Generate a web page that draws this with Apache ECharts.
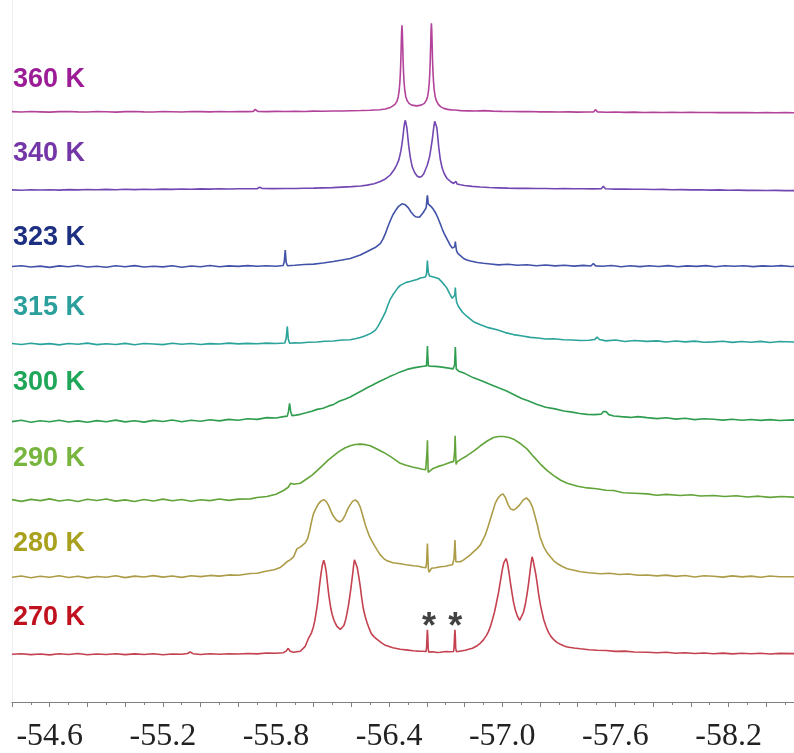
<!DOCTYPE html>
<html>
<head>
<meta charset="utf-8">
<script src="https://cdn.jsdelivr.net/npm/echarts@6/dist/echarts.min.js"></script>
<style>
  html, body { margin: 0; padding: 0; background: #ffffff; overflow: hidden; }
  /* the shift axis runs on past the right edge of the page */
  #chart { width: 820px; height: 753px; }
</style>
</head>
<body>
<div id="chart"></div>
<script>
// Variable-temperature spectra, stacked from 360 K (top) to 270 K (bottom).
// Each spectrum: [chemical shift (ppm), intensity above its own baseline].
const temps = ['360 K', '340 K', '323 K', '315 K', '300 K', '290 K', '280 K', '270 K'];
// Vertical stacking offset of each spectrum's baseline (intensity units)
const offsets = [593.5, 516, 438, 360, 283, 203, 126, 48];
// Shift axis tick labels
const axisLabels = [-54.6, -55.2, -55.8, -56.4, -57.0, -57.6, -58.2];
// Shifts of the two sharp lines flagged with asterisks
const starShifts = [-56.612, -56.751];

const s360 = [[-54.40,0.2],[-54.45,-0.2],[-54.50,0.3],[-54.55,0],[-54.60,-0.3],[-54.65,0.2],[-54.70,0.4],[-54.75,0],[-54.80,-0.2],[-54.85,0.3],[-54.90,0.1],[-54.95,-0.3],[-55.00,0.2],[-55.05,0.4],[-55.10,0],[-55.15,-0.2],[-55.20,0.3],[-55.25,0.1],[-55.30,-0.2],[-55.35,0.3],[-55.40,0.2],[-55.45,0],[-55.50,0.4],[-55.55,0.1],[-55.60,0.3],[-55.65,0.2],[-55.678,0.3],[-55.686,1.6],[-55.690,2.5],[-55.695,1.4],[-55.703,0.4],[-55.75,0.2],[-55.80,0.5],[-55.85,0.3],[-55.90,0.6],[-55.95,0.4],[-56.00,0.7],[-56.05,0.6],[-56.10,0.9],[-56.15,0.8],[-56.20,1.1],[-56.25,1.3],[-56.30,1.6],[-56.35,2.2],[-56.38,2.8],[-56.406,4.5],[-56.418,5.8],[-56.431,7.5],[-56.441,10.5],[-56.448,15],[-56.453,21],[-56.457,30],[-56.460,41],[-56.462,52],[-56.464,66],[-56.466,80],[-56.468,87],[-56.470,80],[-56.472,66],[-56.474,52],[-56.476,41],[-56.479,30],[-56.483,21.5],[-56.488,15.5],[-56.495,11.5],[-56.505,8.5],[-56.52,6.8],[-56.546,6],[-56.57,6.8],[-56.587,8.5],[-56.597,11.5],[-56.604,15.5],[-56.609,21.5],[-56.613,30],[-56.616,41],[-56.618,52],[-56.620,66],[-56.622,80],[-56.624,89],[-56.626,82],[-56.628,68],[-56.630,53],[-56.632,42],[-56.635,31],[-56.639,22],[-56.644,15.5],[-56.651,11],[-56.661,7.5],[-56.674,5],[-56.69,3.5],[-56.71,2.5],[-56.73,2],[-56.748,1.8],[-56.754,3.3],[-56.760,1.6],[-56.78,1.2],[-56.82,1],[-56.86,0.8],[-56.90,1.2],[-56.95,0.7],[-57.00,0.5],[-57.05,0.4],[-57.10,0.2],[-57.15,0.3],[-57.20,0],[-57.25,0.1],[-57.30,-0.2],[-57.35,0],[-57.40,-0.3],[-57.45,-0.1],[-57.485,0],[-57.490,1.5],[-57.494,2.2],[-57.498,1.3],[-57.505,0],[-57.55,-0.4],[-57.60,-0.2],[-57.65,-0.5],[-57.70,-0.3],[-57.75,-0.6],[-57.80,-0.4],[-57.85,-0.6],[-57.90,-0.5],[-57.95,-0.7],[-58.00,-0.5],[-58.05,-0.7],[-58.10,-0.6],[-58.15,-0.8],[-58.20,-0.6],[-58.25,-0.8],[-58.30,-0.7],[-58.35,-0.9],[-58.40,-0.7],[-58.45,-0.9],[-58.50,-0.8],[-58.55,-0.9],[-58.60,-0.8]];

const s340 = [[-54.40,-1],[-54.45,-1.3],[-54.50,-0.8],[-54.55,-1.1],[-54.60,-0.9],[-54.65,-1.2],[-54.70,-0.7],[-54.75,-1],[-54.80,-0.6],[-54.85,-0.9],[-54.90,-0.5],[-54.95,-0.8],[-55.00,-0.4],[-55.05,-0.7],[-55.10,-0.3],[-55.15,-0.6],[-55.20,-0.2],[-55.25,-0.5],[-55.30,-0.1],[-55.35,-0.4],[-55.40,0],[-55.45,-0.2],[-55.50,0.1],[-55.55,-0.1],[-55.60,0.2],[-55.65,0.1],[-55.70,0.2],[-55.709,0.5],[-55.713,1.8],[-55.717,2.8],[-55.721,1.6],[-55.726,0.4],[-55.78,0.3],[-55.85,0.5],[-55.90,0.4],[-55.95,0.7],[-56.00,0.8],[-56.05,1.1],[-56.10,1.3],[-56.15,1.8],[-56.20,2.3],[-56.25,3],[-56.283,3.8],[-56.32,5.2],[-56.353,7.5],[-56.38,10],[-56.406,14],[-56.425,19],[-56.44,24],[-56.452,29.5],[-56.462,38],[-56.468,45],[-56.474,54],[-56.478,61],[-56.482,66.5],[-56.486,69],[-56.490,67],[-56.494,61.5],[-56.498,54],[-56.504,43],[-56.512,32],[-56.522,22.5],[-56.535,16.5],[-56.548,13],[-56.560,11.7],[-56.572,12.5],[-56.583,15],[-56.594,20],[-56.601,23.3],[-56.607,27],[-56.615,33],[-56.622,41],[-56.629,50],[-56.634,58],[-56.638,64],[-56.642,68],[-56.645,69],[-56.649,67],[-56.653,61.5],[-56.657,54],[-56.663,42],[-56.671,30],[-56.681,21],[-56.693,15],[-56.707,10.5],[-56.725,7.5],[-56.742,5.5],[-56.750,5.3],[-56.755,7.5],[-56.760,5],[-56.778,4.2],[-56.80,3.5],[-56.84,2.6],[-56.884,1.9],[-56.93,1.4],[-56.98,1.1],[-57.03,0.8],[-57.08,0.6],[-57.13,0.7],[-57.18,0.4],[-57.23,0.5],[-57.28,0.2],[-57.33,0.3],[-57.38,0.1],[-57.43,0.2],[-57.48,0],[-57.525,0.2],[-57.531,1.5],[-57.536,2.8],[-57.541,1.4],[-57.547,0.1],[-57.60,-0.2],[-57.65,-0.1],[-57.70,-0.4],[-57.75,-0.3],[-57.80,-0.6],[-57.85,-0.5],[-57.90,-0.8],[-57.95,-0.7],[-58.00,-1],[-58.05,-0.9],[-58.10,-1.2],[-58.15,-1],[-58.20,-1.3],[-58.25,-1.2],[-58.30,-1.5],[-58.35,-1.3],[-58.40,-1.6],[-58.45,-1.5],[-58.50,-1.7],[-58.55,-1.6],[-58.60,-1.8]];

const s323 = [[-54.40,0],[-54.45,0.8],[-54.50,-0.6],[-54.55,0.4],[-54.60,-0.9],[-54.65,0.6],[-54.70,-0.3],[-54.75,1],[-54.80,-0.5],[-54.85,0.2],[-54.90,-0.8],[-54.95,0.7],[-55.00,-0.2],[-55.05,0.9],[-55.10,-0.6],[-55.15,0.3],[-55.20,-0.4],[-55.25,0.8],[-55.30,-0.7],[-55.35,0.5],[-55.40,-0.3],[-55.45,1],[-55.50,-0.2],[-55.55,0.6],[-55.60,0.1],[-55.65,0.9],[-55.70,0.2],[-55.75,0.7],[-55.80,0.3],[-55.838,1],[-55.844,5],[-55.849,16.5],[-55.854,4],[-55.861,0.8],[-55.90,1.2],[-55.95,2],[-56.00,2.4],[-56.05,3.5],[-56.104,5],[-56.15,6.5],[-56.194,8],[-56.247,11.5],[-56.284,15],[-56.326,19],[-56.353,23],[-56.367,27.5],[-56.380,33],[-56.393,40],[-56.406,46],[-56.420,52],[-56.433,56],[-56.450,60.5],[-56.468,63],[-56.486,62],[-56.502,59],[-56.515,55],[-56.528,52],[-56.540,50],[-56.550,49],[-56.561,49.5],[-56.571,51.5],[-56.580,54],[-56.587,56],[-56.596,59],[-56.599,64],[-56.601,69],[-56.603,71.5],[-56.605,68],[-56.607,63],[-56.611,62],[-56.617,61],[-56.624,60],[-56.636,57],[-56.646,54],[-56.656,50],[-56.668,44.5],[-56.681,38],[-56.692,33],[-56.703,29],[-56.714,25],[-56.725,21],[-56.735,18.5],[-56.743,17.5],[-56.748,20],[-56.751,25],[-56.754,20],[-56.758,15.5],[-56.765,13],[-56.778,11],[-56.795,8],[-56.812,6.5],[-56.831,5.5],[-56.85,4.8],[-56.868,4],[-56.90,3.2],[-56.937,2.5],[-56.98,1.6],[-57.03,2.2],[-57.08,1.2],[-57.13,1.8],[-57.18,0.8],[-57.23,1.5],[-57.28,0.6],[-57.33,1.3],[-57.38,0.4],[-57.43,1.1],[-57.47,0.5],[-57.478,1.8],[-57.483,3],[-57.488,1.8],[-57.495,0.6],[-57.53,0.2],[-57.58,1],[-57.63,-0.2],[-57.68,0.7],[-57.73,-0.1],[-57.78,0.8],[-57.83,0],[-57.88,0.9],[-57.93,-0.3],[-57.98,0.6],[-58.03,0.1],[-58.08,0.9],[-58.13,-0.2],[-58.18,0.7],[-58.23,0.2],[-58.28,0.8],[-58.33,-0.1],[-58.38,0.6],[-58.43,0.2],[-58.48,0.9],[-58.53,0],[-58.60,0.5]];

const s315 = [[-54.40,0.5],[-54.45,-0.5],[-54.50,0.8],[-54.55,-0.3],[-54.60,0.4],[-54.65,-0.8],[-54.70,0.6],[-54.75,-0.2],[-54.80,0.9],[-54.85,-0.6],[-54.90,0.3],[-54.95,-0.4],[-55.00,0.7],[-55.05,-0.7],[-55.10,0.5],[-55.15,0],[-55.20,-0.6],[-55.25,0.8],[-55.30,-0.2],[-55.35,0.6],[-55.40,-0.5],[-55.45,0.4],[-55.50,0],[-55.55,0.9],[-55.60,0.2],[-55.65,0.7],[-55.70,0.3],[-55.75,0.9],[-55.80,0.5],[-55.847,1],[-55.854,6],[-55.860,17.7],[-55.865,5],[-55.872,0.8],[-55.90,1.2],[-55.929,1],[-55.97,1.8],[-56.018,2],[-56.06,2.8],[-56.104,3],[-56.15,4],[-56.194,4.3],[-56.225,5.5],[-56.247,6.5],[-56.27,8],[-56.283,9],[-56.305,11],[-56.327,14],[-56.340,17.5],[-56.353,22],[-56.367,27],[-56.380,32],[-56.393,39],[-56.406,45],[-56.420,49.5],[-56.433,53],[-56.446,56.5],[-56.459,59],[-56.475,60.5],[-56.491,62],[-56.51,63],[-56.528,64],[-56.548,65],[-56.566,66.5],[-56.58,67],[-56.592,67.5],[-56.598,70],[-56.601,78],[-56.603,84],[-56.605,78],[-56.608,72],[-56.614,68.5],[-56.635,67.5],[-56.661,66],[-56.682,62],[-56.695,59],[-56.707,56],[-56.72,51],[-56.734,46],[-56.744,44],[-56.748,49],[-56.751,56.7],[-56.754,48],[-56.758,42],[-56.767,38],[-56.789,32],[-56.813,27.7],[-56.847,22.5],[-56.884,19.3],[-56.926,16.5],[-56.972,14.3],[-57.016,11.5],[-57.059,9.5],[-57.107,8],[-57.149,6.7],[-57.19,6],[-57.229,5],[-57.27,5.3],[-57.324,4.3],[-57.37,4],[-57.414,3.5],[-57.46,3.8],[-57.49,4.5],[-57.503,7],[-57.515,4.5],[-57.55,3.2],[-57.60,4],[-57.65,2.6],[-57.70,3.5],[-57.768,2.7],[-57.82,3.2],[-57.87,2],[-57.92,3],[-57.97,2.2],[-58.02,2.9],[-58.07,1.8],[-58.120,2.2],[-58.17,2.8],[-58.22,1.7],[-58.27,2.6],[-58.32,1.8],[-58.37,2.7],[-58.42,1.6],[-58.47,2.5],[-58.544,2],[-58.60,2.3]];

const s300 = [[-54.40,-1],[-54.45,0.3],[-54.50,-1.6],[-54.55,-0.2],[-54.60,-1.2],[-54.65,0.4],[-54.70,-1.4],[-54.75,-0.3],[-54.80,-1.7],[-54.85,0],[-54.90,-1.1],[-54.95,0.5],[-55.00,-1.3],[-55.05,-0.1],[-55.10,-1.5],[-55.15,0.2],[-55.20,-0.9],[-55.25,0.6],[-55.30,-1.2],[-55.35,0.3],[-55.40,-0.6],[-55.45,0.9],[-55.50,-0.3],[-55.55,1.2],[-55.60,0.4],[-55.65,1.8],[-55.70,1.2],[-55.752,3],[-55.80,2.6],[-55.84,4],[-55.860,4.5],[-55.866,9],[-55.872,17.3],[-55.878,9],[-55.885,5],[-55.905,5.5],[-55.929,6.3],[-55.96,7.8],[-55.99,9.5],[-56.018,11.3],[-56.05,12.5],[-56.08,14.8],[-56.106,16.3],[-56.135,19.5],[-56.165,21.5],[-56.194,23.7],[-56.225,27],[-56.255,30],[-56.283,33],[-56.31,35.5],[-56.34,38.5],[-56.371,41.3],[-56.40,44],[-56.43,46.5],[-56.459,49],[-56.495,51.5],[-56.530,53],[-56.56,54],[-56.583,54.7],[-56.598,55],[-56.601,65],[-56.603,75],[-56.605,65],[-56.608,55],[-56.619,54.7],[-56.645,54.5],[-56.672,54],[-56.707,53],[-56.739,52],[-56.747,56],[-56.749,65],[-56.751,74],[-56.753,65],[-56.756,52],[-56.769,49.7],[-56.80,47.5],[-56.848,43],[-56.89,40],[-56.937,36.3],[-56.98,33],[-57.02,30],[-57.060,26.3],[-57.10,22.5],[-57.14,19.8],[-57.185,16.3],[-57.23,13.5],[-57.28,11.8],[-57.326,9.7],[-57.37,8.5],[-57.41,7.2],[-57.450,6.3],[-57.49,6],[-57.525,6.5],[-57.535,9],[-57.542,10.7],[-57.550,9],[-57.565,6],[-57.591,4.7],[-57.63,4],[-57.68,3.2],[-57.72,4],[-57.768,3],[-57.82,2],[-57.87,2.8],[-57.92,1.5],[-57.97,2.3],[-58.02,1],[-58.07,1.8],[-58.120,1.3],[-58.17,0.5],[-58.22,1.4],[-58.27,0.3],[-58.32,1.1],[-58.37,0.2],[-58.42,1],[-58.47,0.1],[-58.544,0.7],[-58.60,0.4]];

const s290 = [[-54.40,0.5],[-54.45,-1.2],[-54.50,0.8],[-54.55,-0.5],[-54.60,1.3],[-54.65,-0.9],[-54.70,0.4],[-54.75,-1.3],[-54.80,0.9],[-54.85,-0.4],[-54.90,1.1],[-54.95,-1],[-55.00,0.3],[-55.05,-1.4],[-55.10,0.6],[-55.15,-0.8],[-55.20,1],[-55.25,-0.6],[-55.30,0.7],[-55.35,-1.1],[-55.40,0.4],[-55.45,-0.5],[-55.50,1.2],[-55.55,-0.2],[-55.60,1],[-55.664,1.3],[-55.70,2.6],[-55.752,3.7],[-55.80,6],[-55.840,9.7],[-55.865,13],[-55.878,17],[-55.885,18],[-55.895,16],[-55.910,16.5],[-55.929,17],[-55.96,21],[-55.99,25],[-56.018,29.7],[-56.045,34.5],[-56.075,40],[-56.106,44.7],[-56.135,49],[-56.165,52.5],[-56.194,54.7],[-56.22,56],[-56.247,56.3],[-56.275,55.8],[-56.300,54.7],[-56.335,51.5],[-56.371,48],[-56.41,43.5],[-56.459,37],[-56.49,35],[-56.528,33],[-56.555,32],[-56.576,31],[-56.594,30.5],[-56.598,31],[-56.601,50],[-56.603,60.3],[-56.605,45],[-56.607,28],[-56.611,29.7],[-56.63,31.5],[-56.657,33.7],[-56.69,35.5],[-56.725,38],[-56.742,39],[-56.747,48],[-56.750,64.7],[-56.752,52],[-56.755,36],[-56.760,38.5],[-56.78,41],[-56.813,44.7],[-56.85,49.5],[-56.884,54.7],[-56.92,59.5],[-56.954,63],[-56.98,64],[-57.007,64],[-57.035,63],[-57.060,61.3],[-57.095,57],[-57.132,51.3],[-57.165,44],[-57.202,36.3],[-57.24,29.5],[-57.273,24.7],[-57.31,20],[-57.344,17],[-57.40,14],[-57.450,12.3],[-57.50,11.5],[-57.55,10],[-57.591,9.7],[-57.64,7.5],[-57.70,7],[-57.768,6.3],[-57.82,5],[-57.87,5.8],[-57.945,4.7],[-58.00,5.5],[-58.05,4.2],[-58.120,4.7],[-58.18,3.6],[-58.24,4.4],[-58.30,3.2],[-58.36,4],[-58.42,2.8],[-58.48,3.6],[-58.544,3],[-58.60,3.3]];

const s280 = [[-54.40,-0.5],[-54.45,0.8],[-54.50,-1],[-54.55,0.4],[-54.60,-0.6],[-54.65,1],[-54.70,-0.8],[-54.75,0.5],[-54.80,-1.2],[-54.85,0.2],[-54.90,-0.5],[-54.95,0.9],[-55.00,-0.9],[-55.05,0.6],[-55.10,-0.3],[-55.15,1.1],[-55.20,-0.4],[-55.25,0.7],[-55.30,-0.7],[-55.35,0.9],[-55.40,0.1],[-55.45,1.3],[-55.50,0.6],[-55.55,1.8],[-55.60,1.4],[-55.664,3.3],[-55.70,3.5],[-55.752,5.7],[-55.79,7],[-55.823,9.3],[-55.84,12],[-55.858,15],[-55.875,17],[-55.893,20],[-55.911,28],[-55.93,30],[-55.955,34],[-55.967,38],[-55.977,45],[-55.988,55],[-55.998,63],[-56.01,68],[-56.024,73],[-56.038,76],[-56.053,77.5],[-56.065,76],[-56.078,72],[-56.091,66],[-56.104,61],[-56.12,57],[-56.137,55],[-56.152,57],[-56.167,62],[-56.180,68],[-56.194,72.5],[-56.207,76],[-56.221,77.3],[-56.234,75],[-56.247,70],[-56.262,60],[-56.274,52],[-56.283,47],[-56.297,40],[-56.311,35],[-56.323,31],[-56.336,27],[-56.353,22],[-56.37,18.5],[-56.389,16],[-56.42,14],[-56.459,13],[-56.49,12],[-56.528,11],[-56.555,10.5],[-56.576,9.5],[-56.595,9],[-56.599,15],[-56.601,25],[-56.603,33.3],[-56.605,22],[-56.608,8],[-56.611,4.5],[-56.616,6],[-56.625,8.5],[-56.645,9],[-56.672,10],[-56.698,10.5],[-56.72,11.5],[-56.736,12],[-56.744,18],[-56.747,28],[-56.749,37],[-56.751,27],[-56.754,15],[-56.760,13],[-56.778,15],[-56.795,17],[-56.813,19.5],[-56.83,22],[-56.847,25],[-56.865,28],[-56.884,32],[-56.897,37],[-56.910,42],[-56.924,50],[-56.937,58],[-56.950,66],[-56.963,74],[-56.977,79],[-56.990,82],[-57.004,83.3],[-57.018,79],[-57.032,72],[-57.045,68],[-57.059,67],[-57.075,69],[-57.091,72],[-57.110,77],[-57.128,79.3],[-57.145,76],[-57.160,70],[-57.172,62],[-57.186,52],[-57.200,40],[-57.220,30],[-57.238,24],[-57.255,20],[-57.273,16],[-57.291,13.3],[-57.316,10.5],[-57.344,8],[-57.38,6.5],[-57.414,5],[-57.46,4],[-57.520,3],[-57.57,3.5],[-57.62,2.2],[-57.67,2.8],[-57.72,1.5],[-57.768,1.7],[-57.82,0.8],[-57.87,1.6],[-57.92,0.3],[-57.97,1.2],[-58.02,-0.3],[-58.07,0.9],[-58.120,0.5],[-58.17,-0.4],[-58.22,0.8],[-58.27,-0.2],[-58.32,0.6],[-58.37,-0.5],[-58.42,0.7],[-58.47,-0.1],[-58.544,0],[-58.60,0.3]];

const s270 = [[-54.40,0],[-54.45,0.6],[-54.50,-0.4],[-54.55,0.3],[-54.60,-0.6],[-54.65,0.5],[-54.70,-0.2],[-54.75,0.7],[-54.80,-0.5],[-54.85,0.2],[-54.90,-0.3],[-54.95,0.6],[-55.00,-0.4],[-55.05,0.4],[-55.10,-0.2],[-55.15,0.5],[-55.20,-0.5],[-55.25,0.3],[-55.30,0],[-55.33,0.8],[-55.345,2.3],[-55.36,0.6],[-55.40,-0.2],[-55.45,0.5],[-55.50,0],[-55.55,0.6],[-55.60,0.2],[-55.65,0.8],[-55.70,0.4],[-55.752,1.3],[-55.80,1],[-55.84,1.6],[-55.855,3.5],[-55.865,6],[-55.875,3],[-55.893,2],[-55.929,3],[-55.955,8],[-55.973,16.3],[-55.987,21],[-55.999,28],[-56.006,34],[-56.013,42],[-56.020,51],[-56.026,61],[-56.032,71],[-56.038,80],[-56.045,89],[-56.053,94.7],[-56.060,90],[-56.067,82],[-56.073,71],[-56.079,61.3],[-56.085,53],[-56.091,46],[-56.098,40],[-56.106,35],[-56.115,31],[-56.123,28],[-56.132,26],[-56.141,25],[-56.150,26],[-56.160,29],[-56.169,34.5],[-56.177,41.7],[-56.185,50],[-56.191,58],[-56.197,66],[-56.203,75],[-56.208,83],[-56.212,90],[-56.216,95],[-56.221,96.7],[-56.226,93],[-56.231,87],[-56.239,78],[-56.247,68],[-56.255,56],[-56.263,46],[-56.273,38],[-56.283,31.7],[-56.294,26],[-56.305,21],[-56.320,17.5],[-56.336,15],[-56.36,11.5],[-56.380,9],[-56.42,6.5],[-56.459,5],[-56.50,4.2],[-56.528,3.5],[-56.555,3.2],[-56.576,3],[-56.596,2.8],[-56.599,8],[-56.601,18],[-56.603,24.7],[-56.605,18],[-56.607,6],[-56.610,2.2],[-56.63,2.6],[-56.655,1.8],[-56.672,2],[-56.70,2.8],[-56.725,2.5],[-56.742,2.8],[-56.745,9],[-56.747,19],[-56.749,24.7],[-56.751,18],[-56.753,6],[-56.757,2.6],[-56.78,3.3],[-56.804,4],[-56.822,5],[-56.842,6],[-56.864,8.3],[-56.884,11.3],[-56.900,14.5],[-56.916,19],[-56.927,23],[-56.937,28],[-56.948,35],[-56.958,42],[-56.965,48],[-56.972,54.7],[-56.980,62],[-56.987,70],[-56.994,78],[-57.000,85],[-57.008,92],[-57.020,96.3],[-57.027,92],[-57.035,83],[-57.043,72],[-57.052,61.3],[-57.060,52],[-57.070,44],[-57.081,38],[-57.092,34],[-57.102,36],[-57.112,42],[-57.122,50],[-57.132,61.3],[-57.140,72],[-57.147,83],[-57.152,91],[-57.158,98],[-57.164,94],[-57.170,88],[-57.178,80],[-57.185,71.3],[-57.193,60],[-57.202,50],[-57.211,42],[-57.220,34.7],[-57.232,28],[-57.245,22],[-57.258,18],[-57.273,14.7],[-57.290,12],[-57.308,10],[-57.325,8.5],[-57.344,7.3],[-57.38,6.3],[-57.414,5.5],[-57.46,4.6],[-57.503,4],[-57.55,3.8],[-57.60,2.9],[-57.65,3.2],[-57.70,2.3],[-57.768,2],[-57.82,1.5],[-57.87,2],[-57.92,1.1],[-57.97,1.6],[-58.02,0.8],[-58.07,1.3],[-58.12,0.6],[-58.17,1.2],[-58.22,0.4],[-58.27,1],[-58.32,0.5],[-58.37,1.1],[-58.42,0.3],[-58.47,0.9],[-58.544,0.7],[-58.60,0.5]];

const spectra = [s360, s340, s323, s315, s300, s290, s280, s270];

// Styling
const traceColors = ['#b3429b', '#7247b2', '#4152a8', '#2ba39b', '#2f9d4f', '#62a43a', '#ad9c47', '#c4414f'];
const labelColors = ['#9b1c96', '#7536a8', '#1c2f80', '#2a9f9c', '#1ea659', '#77b53e', '#a9a11e', '#c0111e'];
const labelCenters = [79.7, 154, 237.5, 307.5, 382.5, 459, 543.7, 618];

function isLabelled(v) {
  return axisLabels.some(a => Math.abs(a - v) < 1e-6);
}

const chart = echarts.init(document.getElementById('chart'), null, { renderer: 'canvas', width: 820, height: 753 });

const series = spectra.map((s, i) => ({
  name: temps[i],
  type: 'line',
  data: s.map(([p, h]) => [p, h + offsets[i]]),
  symbol: 'none',
  showSymbol: false,
  silent: true,
  lineStyle: { color: traceColors[i], width: 1.6 },
  z: 2
}));

// Asterisks above the two sharp impurity lines of the 270 K trace
series.push({
  type: 'scatter',
  data: starShifts.map(p => [p, offsets[7] + 26]),
  symbolSize: 1,
  silent: true,
  itemStyle: { color: 'rgba(0,0,0,0)' },
  label: {
    show: true,
    position: 'inside',
    formatter: '*',
    fontSize: 36,
    fontWeight: 'bold',
    fontFamily: '"Liberation Sans", Arial, sans-serif',
    color: '#111'
  },
  z: 3
});

chart.setOption({
  animation: false,
  backgroundColor: '#ffffff',
  grid: { left: 12, top: 0, width: 792, height: 706, containLabel: false },
  xAxis: {
    type: 'value',
    inverse: true,
    min: -58.6,
    max: -54.4,
    interval: 0.2,
    axisLine: { show: true, onZero: false, lineStyle: { color: '#7f7f7f', width: 1 } },
    axisTick: { show: true, length: 5, lineStyle: { color: '#7f7f7f', width: 1 } },
    minorTick: { show: true, splitNumber: 2, length: 3, lineStyle: { color: '#7f7f7f', width: 1 } },
    splitLine: { show: false },
    minorSplitLine: { show: false },
    axisLabel: {
      margin: 19,
      fontSize: 32,
      fontFamily: '"Liberation Serif", "Times New Roman", serif',
      color: '#222222',
      formatter: v => (isLabelled(v) ? v.toFixed(1) : '')
    }
  },
  yAxis: {
    type: 'value',
    min: 0,
    max: 706,
    axisLine: { show: true, onZero: false, lineStyle: { color: '#eeeeee', width: 1 } },
    axisTick: { show: false },
    axisLabel: { show: false },
    splitLine: { show: false }
  },
  series: series,
  graphic: temps.map((t, i) => ({
    type: 'text',
    x: 13,
    y: labelCenters[i],
    silent: true,
    style: {
      text: t,
      fill: labelColors[i],
      font: 'bold 27px "Liberation Sans", Arial, sans-serif',
      align: 'left',
      verticalAlign: 'middle'
    }
  }))
});
</script>
</body>
</html>
